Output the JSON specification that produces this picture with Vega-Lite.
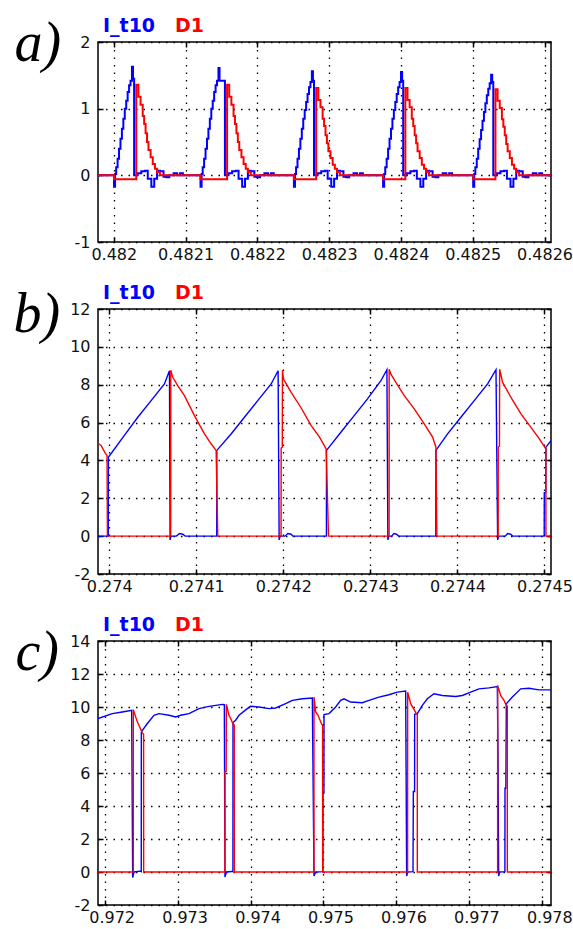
{
"$schema": "https://vega.github.io/schema/vega-lite/v6.json",
"background": "white",
"padding": {"left": 12, "top": 14, "right": 5, "bottom": 2},
"bounds": "flush",
"spacing": 67,
"config": {
  "view": {"stroke": "black", "strokeWidth": 1.5},
  "font": "DejaVu Sans",
  "axis": {"labelFont": "DejaVu Sans", "labelFontSize": 16, "labelColor": "#111", "gridColor": "black", "gridDash": [1.5, 6], "gridWidth": 1.3, "gridOpacity": 1, "tickColor": "black", "tickSize": -5, "tickWidth": 1.5, "domain": false, "labelFlush": false, "labelOverlap": false, "labelBound": false},
  "axisX": {"labelPadding": 9},
  "axisY": {"labelPadding": 13, "labelExpr": "replace(datum.label, '−', '-')"},
  "legend": {"orient": "none", "legendX": -14, "legendY": -26, "direction": "horizontal", "title": null, "symbolSize": 0, "symbolOpacity": 0, "symbolStrokeWidth": 0, "labelOffset": 0, "columnPadding": 0, "padding": 0, "labelFont": "DejaVu Sans", "labelFontSize": 19, "labelFontWeight": "bold", "labelColor": {"expr": "datum.value == 'I_t10' ? '#0000ff' : '#ff0000'"}}
},
"resolve": {"scale": {"color": "independent"}, "legend": {"color": "independent"}},
"datasets": {
"a": [
{"s":"I_t10","t":0.481978,"v":0},
{"s":"I_t10","t":0.4819983,"v":0},{"s":"I_t10","t":0.4820003,"v":-0.17},{"s":"I_t10","t":0.4820018,"v":0.02},{"s":"I_t10","t":0.4820033,"v":0.12},{"s":"I_t10","t":0.4820053,"v":0.25},{"s":"I_t10","t":0.4820073,"v":0.4},{"s":"I_t10","t":0.4820093,"v":0.55},{"s":"I_t10","t":0.4820113,"v":0.7},{"s":"I_t10","t":0.4820133,"v":0.85},{"s":"I_t10","t":0.4820153,"v":1.0},{"s":"I_t10","t":0.4820173,"v":1.12},{"s":"I_t10","t":0.4820193,"v":1.25},{"s":"I_t10","t":0.4820213,"v":1.35},{"s":"I_t10","t":0.4820233,"v":1.42},{"s":"I_t10","t":0.4820253,"v":1.63},{"s":"I_t10","t":0.4820268,"v":1.45},{"s":"I_t10","t":0.4820283,"v":0},{"s":"I_t10","t":0.4820333,"v":0.03},{"s":"I_t10","t":0.4820383,"v":0.06},{"s":"I_t10","t":0.4820433,"v":0.07},{"s":"I_t10","t":0.4820473,"v":-0.05},{"s":"I_t10","t":0.4820523,"v":-0.17},{"s":"I_t10","t":0.4820563,"v":-0.05},{"s":"I_t10","t":0.4820603,"v":0.07},{"s":"I_t10","t":0.4820643,"v":0.06},{"s":"I_t10","t":0.4820693,"v":-0.02},{"s":"I_t10","t":0.4820733,"v":-0.03},{"s":"I_t10","t":0.4820773,"v":0},{"s":"I_t10","t":0.4820833,"v":0.03},{"s":"I_t10","t":0.4820883,"v":0},{"s":"I_t10","t":0.4820923,"v":0.03},{"s":"I_t10","t":0.4820963,"v":0},
{"s":"I_t10","t":0.4821188,"v":0},{"s":"I_t10","t":0.4821208,"v":-0.17},{"s":"I_t10","t":0.4821223,"v":0.02},{"s":"I_t10","t":0.4821238,"v":0.12},{"s":"I_t10","t":0.4821258,"v":0.25},{"s":"I_t10","t":0.4821278,"v":0.4},{"s":"I_t10","t":0.4821298,"v":0.55},{"s":"I_t10","t":0.4821318,"v":0.7},{"s":"I_t10","t":0.4821338,"v":0.85},{"s":"I_t10","t":0.4821358,"v":1.0},{"s":"I_t10","t":0.4821378,"v":1.12},{"s":"I_t10","t":0.4821398,"v":1.25},{"s":"I_t10","t":0.4821418,"v":1.35},{"s":"I_t10","t":0.4821438,"v":1.42},{"s":"I_t10","t":0.4821458,"v":1.61},{"s":"I_t10","t":0.4821473,"v":1.42},{"s":"I_t10","t":0.4821548,"v":0},{"s":"I_t10","t":0.4821598,"v":0.03},{"s":"I_t10","t":0.4821648,"v":0.06},{"s":"I_t10","t":0.4821698,"v":0.07},{"s":"I_t10","t":0.4821738,"v":-0.05},{"s":"I_t10","t":0.4821788,"v":-0.17},{"s":"I_t10","t":0.4821828,"v":-0.05},{"s":"I_t10","t":0.4821868,"v":0.07},{"s":"I_t10","t":0.4821908,"v":0.06},{"s":"I_t10","t":0.4821958,"v":-0.02},{"s":"I_t10","t":0.4821998,"v":-0.03},{"s":"I_t10","t":0.4822038,"v":0},{"s":"I_t10","t":0.4822098,"v":0.03},{"s":"I_t10","t":0.4822148,"v":0},{"s":"I_t10","t":0.4822188,"v":0.03},{"s":"I_t10","t":0.4822228,"v":0},
{"s":"I_t10","t":0.4822489,"v":0},{"s":"I_t10","t":0.4822509,"v":-0.17},{"s":"I_t10","t":0.4822524,"v":0.02},{"s":"I_t10","t":0.4822539,"v":0.12},{"s":"I_t10","t":0.4822559,"v":0.25},{"s":"I_t10","t":0.4822579,"v":0.4},{"s":"I_t10","t":0.4822599,"v":0.55},{"s":"I_t10","t":0.4822619,"v":0.7},{"s":"I_t10","t":0.4822639,"v":0.85},{"s":"I_t10","t":0.4822659,"v":0.98},{"s":"I_t10","t":0.4822679,"v":1.1},{"s":"I_t10","t":0.4822699,"v":1.22},{"s":"I_t10","t":0.4822719,"v":1.32},{"s":"I_t10","t":0.4822739,"v":1.4},{"s":"I_t10","t":0.4822759,"v":1.56},{"s":"I_t10","t":0.4822774,"v":1.42},{"s":"I_t10","t":0.4822789,"v":0},{"s":"I_t10","t":0.4822839,"v":0.03},{"s":"I_t10","t":0.4822889,"v":0.06},{"s":"I_t10","t":0.4822939,"v":0.07},{"s":"I_t10","t":0.4822979,"v":-0.05},{"s":"I_t10","t":0.4823029,"v":-0.17},{"s":"I_t10","t":0.4823069,"v":-0.05},{"s":"I_t10","t":0.4823109,"v":0.07},{"s":"I_t10","t":0.4823149,"v":0.06},{"s":"I_t10","t":0.4823199,"v":-0.02},{"s":"I_t10","t":0.4823239,"v":-0.03},{"s":"I_t10","t":0.4823279,"v":0},{"s":"I_t10","t":0.4823339,"v":0.03},{"s":"I_t10","t":0.4823389,"v":0},{"s":"I_t10","t":0.4823429,"v":0.03},{"s":"I_t10","t":0.4823469,"v":0},
{"s":"I_t10","t":0.4823731,"v":0},{"s":"I_t10","t":0.4823751,"v":-0.17},{"s":"I_t10","t":0.4823766,"v":0.02},{"s":"I_t10","t":0.4823781,"v":0.12},{"s":"I_t10","t":0.4823801,"v":0.25},{"s":"I_t10","t":0.4823821,"v":0.4},{"s":"I_t10","t":0.4823841,"v":0.55},{"s":"I_t10","t":0.4823861,"v":0.7},{"s":"I_t10","t":0.4823881,"v":0.85},{"s":"I_t10","t":0.4823901,"v":0.98},{"s":"I_t10","t":0.4823921,"v":1.1},{"s":"I_t10","t":0.4823941,"v":1.22},{"s":"I_t10","t":0.4823961,"v":1.32},{"s":"I_t10","t":0.4823981,"v":1.4},{"s":"I_t10","t":0.4824001,"v":1.55},{"s":"I_t10","t":0.4824016,"v":1.42},{"s":"I_t10","t":0.4824031,"v":0},{"s":"I_t10","t":0.4824081,"v":0.03},{"s":"I_t10","t":0.4824131,"v":0.06},{"s":"I_t10","t":0.4824181,"v":0.07},{"s":"I_t10","t":0.4824221,"v":-0.05},{"s":"I_t10","t":0.4824271,"v":-0.17},{"s":"I_t10","t":0.4824311,"v":-0.05},{"s":"I_t10","t":0.4824351,"v":0.07},{"s":"I_t10","t":0.4824391,"v":0.06},{"s":"I_t10","t":0.4824441,"v":-0.02},{"s":"I_t10","t":0.4824481,"v":-0.03},{"s":"I_t10","t":0.4824521,"v":0},{"s":"I_t10","t":0.4824581,"v":0.03},{"s":"I_t10","t":0.4824631,"v":0},{"s":"I_t10","t":0.4824671,"v":0.03},{"s":"I_t10","t":0.4824711,"v":0},
{"s":"I_t10","t":0.4824986,"v":0},{"s":"I_t10","t":0.4825006,"v":-0.17},{"s":"I_t10","t":0.4825021,"v":0.02},{"s":"I_t10","t":0.4825036,"v":0.12},{"s":"I_t10","t":0.4825056,"v":0.25},{"s":"I_t10","t":0.4825076,"v":0.4},{"s":"I_t10","t":0.4825096,"v":0.54},{"s":"I_t10","t":0.4825116,"v":0.68},{"s":"I_t10","t":0.4825136,"v":0.82},{"s":"I_t10","t":0.4825156,"v":0.95},{"s":"I_t10","t":0.4825176,"v":1.08},{"s":"I_t10","t":0.4825196,"v":1.2},{"s":"I_t10","t":0.4825216,"v":1.3},{"s":"I_t10","t":0.4825236,"v":1.38},{"s":"I_t10","t":0.4825256,"v":1.51},{"s":"I_t10","t":0.4825271,"v":1.4},{"s":"I_t10","t":0.4825286,"v":0},{"s":"I_t10","t":0.4825336,"v":0.03},{"s":"I_t10","t":0.4825386,"v":0.06},{"s":"I_t10","t":0.4825436,"v":0.07},{"s":"I_t10","t":0.4825476,"v":-0.05},{"s":"I_t10","t":0.4825526,"v":-0.17},{"s":"I_t10","t":0.4825566,"v":-0.05},{"s":"I_t10","t":0.4825606,"v":0.07},{"s":"I_t10","t":0.4825646,"v":0.06},{"s":"I_t10","t":0.4825696,"v":-0.02},{"s":"I_t10","t":0.4825736,"v":-0.03},{"s":"I_t10","t":0.4825776,"v":0},{"s":"I_t10","t":0.4825836,"v":0.03},{"s":"I_t10","t":0.4825886,"v":0},{"s":"I_t10","t":0.4825926,"v":0.03},{"s":"I_t10","t":0.4825966,"v":0},
{"s":"I_t10","t":0.482609,"v":0},
{"s":"D1","t":0.481978,"v":0},
{"s":"D1","t":0.4820003,"v":-0.06},{"s":"D1","t":0.4820313,"v":1.36},{"s":"D1","t":0.4820343,"v":1.18},{"s":"D1","t":0.4820373,"v":1.06},{"s":"D1","t":0.4820403,"v":0.89},{"s":"D1","t":0.4820423,"v":0.77},{"s":"D1","t":0.4820443,"v":0.63},{"s":"D1","t":0.4820463,"v":0.5},{"s":"D1","t":0.4820483,"v":0.38},{"s":"D1","t":0.4820513,"v":0.27},{"s":"D1","t":0.4820543,"v":0.17},{"s":"D1","t":0.4820573,"v":0.1},{"s":"D1","t":0.4820603,"v":0.05},{"s":"D1","t":0.4820643,"v":0},
{"s":"D1","t":0.4821208,"v":-0.06},{"s":"D1","t":0.4821578,"v":1.36},{"s":"D1","t":0.4821608,"v":1.18},{"s":"D1","t":0.4821638,"v":1.06},{"s":"D1","t":0.4821668,"v":0.89},{"s":"D1","t":0.4821688,"v":0.77},{"s":"D1","t":0.4821708,"v":0.63},{"s":"D1","t":0.4821728,"v":0.5},{"s":"D1","t":0.4821748,"v":0.38},{"s":"D1","t":0.4821778,"v":0.27},{"s":"D1","t":0.4821808,"v":0.17},{"s":"D1","t":0.4821838,"v":0.1},{"s":"D1","t":0.4821868,"v":0.05},{"s":"D1","t":0.4821908,"v":0},
{"s":"D1","t":0.4822509,"v":-0.06},{"s":"D1","t":0.4822819,"v":1.31},{"s":"D1","t":0.4822849,"v":1.13},{"s":"D1","t":0.4822879,"v":1.02},{"s":"D1","t":0.4822909,"v":0.85},{"s":"D1","t":0.4822929,"v":0.74},{"s":"D1","t":0.4822949,"v":0.6},{"s":"D1","t":0.4822969,"v":0.48},{"s":"D1","t":0.4822989,"v":0.36},{"s":"D1","t":0.4823019,"v":0.26},{"s":"D1","t":0.4823049,"v":0.16},{"s":"D1","t":0.4823079,"v":0.1},{"s":"D1","t":0.4823109,"v":0.05},{"s":"D1","t":0.4823149,"v":0},
{"s":"D1","t":0.4823751,"v":-0.06},{"s":"D1","t":0.4824061,"v":1.31},{"s":"D1","t":0.4824091,"v":1.13},{"s":"D1","t":0.4824121,"v":1.02},{"s":"D1","t":0.4824151,"v":0.85},{"s":"D1","t":0.4824171,"v":0.74},{"s":"D1","t":0.4824191,"v":0.6},{"s":"D1","t":0.4824211,"v":0.48},{"s":"D1","t":0.4824231,"v":0.36},{"s":"D1","t":0.4824261,"v":0.26},{"s":"D1","t":0.4824291,"v":0.16},{"s":"D1","t":0.4824321,"v":0.1},{"s":"D1","t":0.4824351,"v":0.05},{"s":"D1","t":0.4824391,"v":0},
{"s":"D1","t":0.4825006,"v":-0.06},{"s":"D1","t":0.4825316,"v":1.29},{"s":"D1","t":0.4825346,"v":1.12},{"s":"D1","t":0.4825376,"v":1.01},{"s":"D1","t":0.4825406,"v":0.84},{"s":"D1","t":0.4825426,"v":0.73},{"s":"D1","t":0.4825446,"v":0.6},{"s":"D1","t":0.4825466,"v":0.47},{"s":"D1","t":0.4825486,"v":0.36},{"s":"D1","t":0.4825516,"v":0.26},{"s":"D1","t":0.4825546,"v":0.16},{"s":"D1","t":0.4825576,"v":0.1},{"s":"D1","t":0.4825606,"v":0.05},{"s":"D1","t":0.4825646,"v":0},
{"s":"D1","t":0.482609,"v":0}
],
"b": [
{"s":"I_t10","t":0.2739871,"v":0},{"s":"I_t10","t":0.2739989,"v":0},{"s":"I_t10","t":0.2739990,"v":4.17},{"s":"I_t10","t":0.2740174,"v":5.32},{"s":"I_t10","t":0.2740328,"v":6.28},{"s":"I_t10","t":0.2740481,"v":7.16},{"s":"I_t10","t":0.2740634,"v":8.04},{"s":"I_t10","t":0.2740692,"v":8.74},{"s":"I_t10","t":0.2740699,"v":-0.2},{"s":"I_t10","t":0.2740711,"v":0},{"s":"I_t10","t":0.2740772,"v":0},{"s":"I_t10","t":0.2740807,"v":0.14},{"s":"I_t10","t":0.2740845,"v":0.1},{"s":"I_t10","t":0.2740872,"v":0},
{"s":"I_t10","t":0.2741235,"v":0},{"s":"I_t10","t":0.2741236,"v":4.53},{"s":"I_t10","t":0.2741400,"v":5.40},{"s":"I_t10","t":0.2741553,"v":6.28},{"s":"I_t10","t":0.2741706,"v":7.16},{"s":"I_t10","t":0.2741860,"v":8.04},{"s":"I_t10","t":0.2741940,"v":8.74},{"s":"I_t10","t":0.2741952,"v":-0.2},{"s":"I_t10","t":0.2741964,"v":0},{"s":"I_t10","t":0.2742020,"v":0},{"s":"I_t10","t":0.2742052,"v":0.14},{"s":"I_t10","t":0.2742090,"v":0.1},{"s":"I_t10","t":0.2742110,"v":0},
{"s":"I_t10","t":0.2742495,"v":0},{"s":"I_t10","t":0.2742496,"v":4.53},{"s":"I_t10","t":0.2742661,"v":5.49},{"s":"I_t10","t":0.2742814,"v":6.37},{"s":"I_t10","t":0.2742967,"v":7.25},{"s":"I_t10","t":0.2743121,"v":8.21},{"s":"I_t10","t":0.2743190,"v":8.79},{"s":"I_t10","t":0.2743201,"v":-0.2},{"s":"I_t10","t":0.2743213,"v":0},{"s":"I_t10","t":0.2743245,"v":0},{"s":"I_t10","t":0.2743270,"v":0.14},{"s":"I_t10","t":0.2743300,"v":0.1},{"s":"I_t10","t":0.2743325,"v":0},
{"s":"I_t10","t":0.2743752,"v":0},{"s":"I_t10","t":0.2743753,"v":4.53},{"s":"I_t10","t":0.2743887,"v":5.40},{"s":"I_t10","t":0.2744040,"v":6.28},{"s":"I_t10","t":0.2744193,"v":7.16},{"s":"I_t10","t":0.2744347,"v":8.04},{"s":"I_t10","t":0.2744443,"v":8.79},{"s":"I_t10","t":0.2744462,"v":-0.2},{"s":"I_t10","t":0.2744474,"v":0},{"s":"I_t10","t":0.2744550,"v":0},{"s":"I_t10","t":0.2744577,"v":0.14},{"s":"I_t10","t":0.2744610,"v":0.1},{"s":"I_t10","t":0.2744635,"v":0},
{"s":"I_t10","t":0.2744997,"v":0},{"s":"I_t10","t":0.2744998,"v":2.3},{"s":"I_t10","t":0.2745015,"v":2.3},{"s":"I_t10","t":0.2745017,"v":4.7},{"s":"I_t10","t":0.2745075,"v":5.05},
{"s":"D1","t":0.2739871,"v":4.91},{"s":"D1","t":0.2739906,"v":4.79},{"s":"D1","t":0.2739937,"v":4.53},{"s":"D1","t":0.2739960,"v":4.35},{"s":"D1","t":0.2739975,"v":4.26},{"s":"D1","t":0.2739979,"v":0},
{"s":"D1","t":0.2740706,"v":0},{"s":"D1","t":0.2740707,"v":8.77},{"s":"D1","t":0.2740730,"v":8.39},{"s":"D1","t":0.2740787,"v":7.95},{"s":"D1","t":0.2740864,"v":7.42},{"s":"D1","t":0.2740979,"v":6.37},{"s":"D1","t":0.2741094,"v":5.40},{"s":"D1","t":0.2741170,"v":4.88},{"s":"D1","t":0.2741228,"v":4.53},{"s":"D1","t":0.2741247,"v":0},
{"s":"D1","t":0.2741974,"v":0},{"s":"D1","t":0.2741975,"v":4.65},{"s":"D1","t":0.2741988,"v":4.7},{"s":"D1","t":0.2741990,"v":8.77},{"s":"D1","t":0.2742002,"v":8.30},{"s":"D1","t":0.2742090,"v":7.60},{"s":"D1","t":0.2742205,"v":6.77},{"s":"D1","t":0.2742320,"v":5.84},{"s":"D1","t":0.2742416,"v":5.23},{"s":"D1","t":0.2742492,"v":4.61},{"s":"D1","t":0.2742519,"v":0},
{"s":"D1","t":0.2743215,"v":0},{"s":"D1","t":0.2743216,"v":8.82},{"s":"D1","t":0.2743236,"v":8.56},{"s":"D1","t":0.2743293,"v":8.12},{"s":"D1","t":0.2743389,"v":7.42},{"s":"D1","t":0.2743504,"v":6.72},{"s":"D1","t":0.2743619,"v":5.93},{"s":"D1","t":0.2743715,"v":5.23},{"s":"D1","t":0.2743753,"v":4.70},{"s":"D1","t":0.2743764,"v":0},
{"s":"D1","t":0.2744468,"v":0},{"s":"D1","t":0.2744469,"v":4.7},{"s":"D1","t":0.2744483,"v":4.75},{"s":"D1","t":0.2744485,"v":8.82},{"s":"D1","t":0.2744519,"v":8.12},{"s":"D1","t":0.2744615,"v":7.33},{"s":"D1","t":0.2744730,"v":6.46},{"s":"D1","t":0.2744845,"v":5.75},{"s":"D1","t":0.2744941,"v":5.14},{"s":"D1","t":0.2744990,"v":4.79},{"s":"D1","t":0.2745016,"v":4.6},{"s":"D1","t":0.2745017,"v":0},{"s":"D1","t":0.2745075,"v":0}
],
"c": [
{"s":"I_t10","t":0.9719091,"v":9.30},{"s":"I_t10","t":0.9721049,"v":9.60},{"s":"I_t10","t":0.9722420,"v":9.70},{"s":"I_t10","t":0.9723706,"v":9.80},{"s":"I_t10","t":0.9723843,"v":-0.34},{"s":"I_t10","t":0.9724025,"v":0},{"s":"I_t10","t":0.9724848,"v":0.05},{"s":"I_t10","t":0.9725020,"v":0.02},{"s":"I_t10","t":0.9725031,"v":8.49},{"s":"I_t10","t":0.9725853,"v":9.0},{"s":"I_t10","t":0.9726767,"v":9.5},{"s":"I_t10","t":0.9727452,"v":9.6},{"s":"I_t10","t":0.9728823,"v":9.5},{"s":"I_t10","t":0.9729737,"v":9.4},{"s":"I_t10","t":0.9730422,"v":9.5},{"s":"I_t10","t":0.9731565,"v":9.6},{"s":"I_t10","t":0.9732936,"v":9.9},{"s":"I_t10","t":0.9734306,"v":10.04},{"s":"I_t10","t":0.9736134,"v":10.16},{"s":"I_t10","t":0.9736408,"v":10.14},{"s":"I_t10","t":0.9736500,"v":-0.3},{"s":"I_t10","t":0.9736683,"v":0},{"s":"I_t10","t":0.9737414,"v":0.03},{"s":"I_t10","t":0.9737590,"v":0.03},{"s":"I_t10","t":0.9737597,"v":9.06},{"s":"I_t10","t":0.9737963,"v":9.2},{"s":"I_t10","t":0.9738420,"v":9.5},{"s":"I_t10","t":0.9739562,"v":9.9},{"s":"I_t10","t":0.9740019,"v":10.04},{"s":"I_t10","t":0.9741161,"v":10.0},{"s":"I_t10","t":0.9742532,"v":9.9},{"s":"I_t10","t":0.9743446,"v":9.94},{"s":"I_t10","t":0.9744817,"v":10.2},{"s":"I_t10","t":0.9745731,"v":10.4},{"s":"I_t10","t":0.9747101,"v":10.5},{"s":"I_t10","t":0.9748471,"v":10.54},{"s":"I_t10","t":0.9748700,"v":-0.24},{"s":"I_t10","t":0.9748928,"v":0},{"s":"I_t10","t":0.9749920,"v":0.02},{"s":"I_t10","t":0.9749934,"v":4.78},{"s":"I_t10","t":0.9750060,"v":4.78},{"s":"I_t10","t":0.9750071,"v":9.54},{"s":"I_t10","t":0.9750756,"v":9.6},{"s":"I_t10","t":0.9751670,"v":10.0},{"s":"I_t10","t":0.9752355,"v":10.4},{"s":"I_t10","t":0.9752812,"v":10.5},{"s":"I_t10","t":0.9753726,"v":10.3},{"s":"I_t10","t":0.9755325,"v":10.26},{"s":"I_t10","t":0.9756238,"v":10.4},{"s":"I_t10","t":0.9757609,"v":10.6},{"s":"I_t10","t":0.9758967,"v":10.74},{"s":"I_t10","t":0.9760123,"v":10.9},{"s":"I_t10","t":0.9761266,"v":10.96},{"s":"I_t10","t":0.9761403,"v":-0.24},{"s":"I_t10","t":0.9761540,"v":0},{"s":"I_t10","t":0.9762271,"v":0.02},{"s":"I_t10","t":0.9762317,"v":4.88},{"s":"I_t10","t":0.9762490,"v":4.88},{"s":"I_t10","t":0.9762500,"v":9.56},{"s":"I_t10","t":0.9762865,"v":9.6},{"s":"I_t10","t":0.9763550,"v":10.1},{"s":"I_t10","t":0.9764236,"v":10.5},{"s":"I_t10","t":0.9765150,"v":10.8},{"s":"I_t10","t":0.9766292,"v":10.7},{"s":"I_t10","t":0.9768120,"v":10.64},{"s":"I_t10","t":0.9769034,"v":10.7},{"s":"I_t10","t":0.9770176,"v":10.9},{"s":"I_t10","t":0.9771318,"v":11.1},{"s":"I_t10","t":0.9772689,"v":11.16},{"s":"I_t10","t":0.9773832,"v":11.24},{"s":"I_t10","t":0.9773923,"v":7.29},{"s":"I_t10","t":0.9774014,"v":-0.24},{"s":"I_t10","t":0.9774151,"v":0},{"s":"I_t10","t":0.9774870,"v":0.02},{"s":"I_t10","t":0.9774882,"v":5.08},{"s":"I_t10","t":0.9775000,"v":5.08},{"s":"I_t10","t":0.9775065,"v":10.2},{"s":"I_t10","t":0.9775888,"v":10.6},{"s":"I_t10","t":0.9777030,"v":11.1},{"s":"I_t10","t":0.9778172,"v":11.14},{"s":"I_t10","t":0.9779543,"v":11.04},{"s":"I_t10","t":0.9781188,"v":11.04},
{"s":"D1","t":0.9719091,"v":0},{"s":"D1","t":0.9723930,"v":0},{"s":"D1","t":0.9723934,"v":9.84},{"s":"D1","t":0.9724254,"v":9.4},{"s":"D1","t":0.9724482,"v":9.1},{"s":"D1","t":0.9725168,"v":8.43},{"s":"D1","t":0.9725340,"v":8.35},{"s":"D1","t":0.9725351,"v":0},
{"s":"D1","t":0.9736490,"v":0},{"s":"D1","t":0.9736500,"v":6.1},{"s":"D1","t":0.9736660,"v":6.1},{"s":"D1","t":0.9736683,"v":10.16},{"s":"D1","t":0.9737048,"v":9.5},{"s":"D1","t":0.9737277,"v":9.3},{"s":"D1","t":0.9737597,"v":8.96},{"s":"D1","t":0.9737770,"v":8.9},{"s":"D1","t":0.9737780,"v":0},
{"s":"D1","t":0.9748690,"v":0},{"s":"D1","t":0.9748700,"v":10.6},{"s":"D1","t":0.9748928,"v":9.7},{"s":"D1","t":0.9749248,"v":9.5},{"s":"D1","t":0.9749751,"v":8.96},{"s":"D1","t":0.9749880,"v":8.9},{"s":"D1","t":0.9749888,"v":0},
{"s":"D1","t":0.9761530,"v":0},{"s":"D1","t":0.9761540,"v":10.9},{"s":"D1","t":0.9761951,"v":10.2},{"s":"D1","t":0.9762728,"v":9.6},{"s":"D1","t":0.9762860,"v":9.55},{"s":"D1","t":0.9762865,"v":0},
{"s":"D1","t":0.9773870,"v":0},{"s":"D1","t":0.9773877,"v":11.3},{"s":"D1","t":0.9774288,"v":10.7},{"s":"D1","t":0.9774745,"v":10.4},{"s":"D1","t":0.9775065,"v":10.1},{"s":"D1","t":0.9775195,"v":10.05},{"s":"D1","t":0.9775202,"v":0},{"s":"D1","t":0.9781188,"v":0}
]
},
"vconcat": [
{
  "width": 453, "height": 200,
  "data": {"name": "a"},
  "layer": [
    {"transform": [{"filter": "datum.s == 'I_t10'"}],
     "mark": {"type": "line", "interpolate": "step-after", "strokeWidth": 2, "clip": true},
     "encoding": {
       "x": {"field": "t", "type": "quantitative", "scale": {"domain": [0.481978, 0.482609], "nice": false, "zero": false},
             "axis": {"orient": "bottom", "values": [0.482, 0.4821, 0.4822, 0.4823, 0.4824, 0.4825, 0.4826], "format": "~g", "grid": true, "title": null}},
       "y": {"field": "v", "type": "quantitative", "scale": {"domain": [-1, 2], "nice": false, "zero": false},
             "axis": {"orient": "left", "values": [-1, 0, 1, 2], "format": "d", "grid": true, "title": "a)", "titleAngle": 0, "titleFont": "Liberation Serif", "titleFontStyle": "italic", "titleFontWeight": "normal", "titleFontSize": 56, "titleColor": "black", "titleAlign": "left", "titleBaseline": "alphabetic", "titleX": -84, "titleY": 18}},
       "color": {"field": "s", "type": "nominal", "scale": {"domain": ["I_t10", "D1"], "range": ["#0000ff", "#ff0000"]}}
     }},
    {"transform": [{"filter": "datum.s == 'D1'"}],
     "mark": {"type": "line", "interpolate": "step-after", "strokeWidth": 2, "clip": true},
     "encoding": {
       "x": {"field": "t", "type": "quantitative", "axis": {"orient": "top", "values": [0.482, 0.4821, 0.4822, 0.4823, 0.4824, 0.4825, 0.4826], "labels": false, "grid": false, "title": null}},
       "y": {"field": "v", "type": "quantitative", "axis": {"orient": "right", "values": [-1, 0, 1, 2], "labels": false, "grid": false, "title": null}},
       "color": {"field": "s", "type": "nominal", "scale": {"domain": ["I_t10", "D1"], "range": ["#0000ff", "#ff0000"]}}
     }}
  ],
  "resolve": {"axis": {"x": "independent", "y": "independent"}}
},
{
  "width": 453, "height": 265,
  "data": {"name": "b"},
  "layer": [
    {"transform": [{"filter": "datum.s == 'I_t10'"}],
     "mark": {"type": "line", "strokeWidth": 1.4, "clip": true},
     "encoding": {
       "x": {"field": "t", "type": "quantitative", "scale": {"domain": [0.2739871, 0.2745075], "nice": false, "zero": false},
             "axis": {"orient": "bottom", "values": [0.274, 0.2741, 0.2742, 0.2743, 0.2744, 0.2745], "format": "~g", "grid": true, "title": null}},
       "y": {"field": "v", "type": "quantitative", "scale": {"domain": [-2, 12], "nice": false, "zero": false},
             "axis": {"orient": "left", "values": [-2, 0, 2, 4, 6, 8, 10, 12], "format": "d", "grid": true, "title": "b)", "titleAngle": 0, "titleFont": "Liberation Serif", "titleFontStyle": "italic", "titleFontWeight": "normal", "titleFontSize": 56, "titleColor": "black", "titleAlign": "left", "titleBaseline": "alphabetic", "titleX": -85, "titleY": 22}},
       "color": {"field": "s", "type": "nominal", "scale": {"domain": ["I_t10", "D1"], "range": ["#0000ff", "#ff0000"]}}
     }},
    {"transform": [{"filter": "datum.s == 'D1'"}],
     "mark": {"type": "line", "strokeWidth": 1.4, "clip": true},
     "encoding": {
       "x": {"field": "t", "type": "quantitative", "axis": {"orient": "top", "values": [0.274, 0.2741, 0.2742, 0.2743, 0.2744, 0.2745], "labels": false, "grid": false, "title": null}},
       "y": {"field": "v", "type": "quantitative", "axis": {"orient": "right", "values": [-2, 0, 2, 4, 6, 8, 10, 12], "labels": false, "grid": false, "title": null}},
       "color": {"field": "s", "type": "nominal", "scale": {"domain": ["I_t10", "D1"], "range": ["#0000ff", "#ff0000"]}}
     }}
  ],
  "resolve": {"axis": {"x": "independent", "y": "independent"}}
},
{
  "width": 453, "height": 264,
  "data": {"name": "c"},
  "layer": [
    {"transform": [{"filter": "datum.s == 'I_t10'"}],
     "mark": {"type": "line", "strokeWidth": 1.4, "clip": true},
     "encoding": {
       "x": {"field": "t", "type": "quantitative", "scale": {"domain": [0.9719091, 0.9781188], "nice": false, "zero": false},
             "axis": {"orient": "bottom", "values": [0.972, 0.973, 0.974, 0.975, 0.976, 0.977, 0.978], "format": "~g", "grid": true, "title": null, "labelOffset": 7}},
       "y": {"field": "v", "type": "quantitative", "scale": {"domain": [-2, 14], "nice": false, "zero": false},
             "axis": {"orient": "left", "values": [-2, 0, 2, 4, 6, 8, 10, 12, 14], "format": "d", "grid": true, "title": "c)", "titleAngle": 0, "titleFont": "Liberation Serif", "titleFontStyle": "italic", "titleFontWeight": "normal", "titleFontSize": 56, "titleColor": "black", "titleAlign": "left", "titleBaseline": "alphabetic", "titleX": -83, "titleY": 28}},
       "color": {"field": "s", "type": "nominal", "scale": {"domain": ["I_t10", "D1"], "range": ["#0000ff", "#ff0000"]}}
     }},
    {"transform": [{"filter": "datum.s == 'D1'"}],
     "mark": {"type": "line", "strokeWidth": 1.4, "clip": true},
     "encoding": {
       "x": {"field": "t", "type": "quantitative", "axis": {"orient": "top", "values": [0.972, 0.973, 0.974, 0.975, 0.976, 0.977, 0.978], "labels": false, "grid": false, "title": null}},
       "y": {"field": "v", "type": "quantitative", "axis": {"orient": "right", "values": [-2, 0, 2, 4, 6, 8, 10, 12, 14], "labels": false, "grid": false, "title": null}},
       "color": {"field": "s", "type": "nominal", "scale": {"domain": ["I_t10", "D1"], "range": ["#0000ff", "#ff0000"]}}
     }}
  ],
  "resolve": {"axis": {"x": "independent", "y": "independent"}}
}
]
}
